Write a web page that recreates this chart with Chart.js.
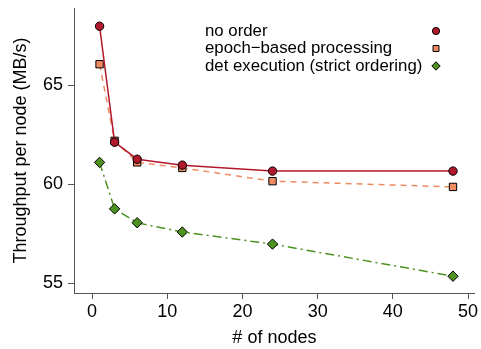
<!DOCTYPE html>
<html>
<head>
<meta charset="utf-8">
<script src="https://cdn.jsdelivr.net/npm/chart.js@4"></script>
<style>
  html, body { margin: 0; padding: 0; background: #fff; }
  #wrap { width: 481px; height: 349px; }
</style>
</head>
<body>
<div id="wrap"><canvas id="myChart" width="481" height="349"></canvas></div>
<script>
// data
var nodes = [1, 3, 6, 12, 24, 48];
var noOrder = [67.98, 62.12, 61.26, 60.96, 60.66, 60.66];
var epochBased = [66.06, 62.19, 61.1, 60.82, 60.15, 59.86];
var detExec = [61.1, 58.75, 58.05, 57.58, 56.97, 55.35];
var xTicks = [0, 10, 20, 30, 40, 50];
var yTicks = [55, 60, 65];
var seriesNames = ['no order', 'epoch\u2212based processing', 'det execution (strict ordering)'];

function pts(ys) {
  return nodes.map(function(x, i) { return { x: x, y: ys[i] }; });
}

// legend drawn R-style: text left, symbol on the right
var legendRadius = [3.6, 4.2, 4.2];
var rLegend = {
  id: 'rLegend',
  afterDraw: function(chart) {
    var ctx = chart.ctx;
    ctx.save();
    ctx.font = '16.8px "Liberation Sans", Arial, sans-serif';
    ctx.textBaseline = 'middle';
    ctx.textAlign = 'left';
    var rows = [31, 48.5, 66];
    chart.data.datasets.forEach(function(ds, i) {
      ctx.fillStyle = '#000';
      ctx.fillText(seriesNames[i], 205, rows[i]);
      ctx.fillStyle = ds.pointBackgroundColor;
      ctx.strokeStyle = '#000';
      ctx.lineWidth = 1;
      Chart.helpers.drawPoint(ctx, {
        pointStyle: ds.pointStyle,
        radius: legendRadius[i],
        borderWidth: 1,
        rotation: 0
      }, 436, rows[i]);
    });
    ctx.restore();
  }
};

var font18 = { size: 18, family: '"Liberation Sans", Arial, sans-serif' };

var ctx = document.getElementById('myChart').getContext('2d');
var chart = new Chart(ctx, {
  type: 'scatter',
  data: {
    datasets: [{
      label: seriesNames[0],
      data: pts(noOrder),
      showLine: true,
      borderColor: '#B2182B',
      borderWidth: 1.5,
      pointStyle: 'circle',
      pointRadius: 4.2,
      pointBackgroundColor: '#B2182B',
      pointBorderColor: '#000',
      pointBorderWidth: 1
    }, {
      label: seriesNames[1],
      data: pts(epochBased),
      showLine: true,
      borderColor: '#EF8A62',
      borderWidth: 1.5,
      borderDash: [6, 5],
      pointStyle: 'rect',
      pointRadius: 5.2,
      pointBackgroundColor: '#EF8A62',
      pointBorderColor: '#000',
      pointBorderWidth: 1
    }, {
      label: seriesNames[2],
      data: pts(detExec),
      showLine: true,
      borderColor: '#4D9221',
      borderWidth: 1.5,
      borderDash: [9, 4, 2, 4],
      pointStyle: 'rectRot',
      pointRadius: 5.2,
      pointBackgroundColor: '#4D9221',
      pointBorderColor: '#000',
      pointBorderWidth: 1
    }]
  },
  options: {
    responsive: false,
    animation: false,
    layout: { padding: { top: 8, right: 4, left: 0, bottom: 0 } },
    plugins: {
      legend: { display: false },
      tooltip: { enabled: false }
    },
    scales: {
      x: {
        type: 'linear',
        min: -2.4,
        max: 50.9,
        afterBuildTicks: function(s) { s.ticks = xTicks.map(function(v) { return { value: v }; }); },
        afterFit: function(s) { s.height = 56; s.paddingLeft = 0; s.paddingRight = 0; },
        grid: { drawOnChartArea: false, drawTicks: true, tickLength: 6, color: '#555' },
        border: { color: '#555', width: 1 },
        ticks: { color: '#000', padding: 2, font: font18 },
        title: { display: true, text: '# of nodes', color: '#000', padding: { top: 0, bottom: 0 }, font: font18 }
      },
      y: {
        min: 54.5,
        max: 68.9,
        afterBuildTicks: function(s) { s.ticks = yTicks.map(function(v) { return { value: v }; }); },
        afterFit: function(s) { s.width = 74; s.paddingTop = 0; s.paddingBottom = 0; },
        grid: { drawOnChartArea: false, drawTicks: true, tickLength: 6, color: '#555' },
        border: { color: '#555', width: 1 },
        ticks: { color: '#000', padding: 5, font: font18 },
        title: { display: true, text: 'Throughput per node (MB/s)', color: '#000', padding: { top: 10, bottom: 9 }, font: font18 }
      }
    }
  },
  plugins: [rLegend]
});
</script>
</body>
</html>
